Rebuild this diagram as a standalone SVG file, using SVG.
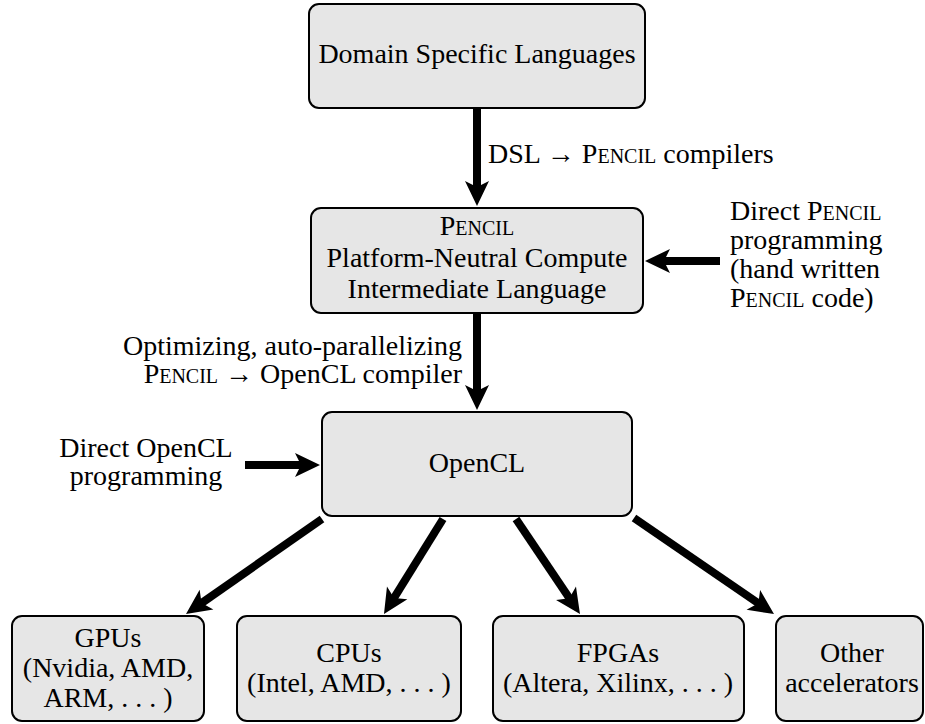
<svg xmlns="http://www.w3.org/2000/svg" width="925" height="724" viewBox="0 0 925 724">
<style>
.box{fill:#e6e6e6;stroke:#000;stroke-width:2}
.arr{stroke:#000;stroke-width:8;fill:none;marker-end:url(#ah)}
</style>
<defs>
<marker id="ah" markerUnits="userSpaceOnUse" markerWidth="40" markerHeight="40" refX="10" refY="0" orient="auto" overflow="visible" viewBox="-5 -20 40 40">
<path d="M0,-12 L25,0 L0,12 L6,0 Z" fill="#000"/>
</marker>
</defs>
<g id="connectors">
<line class="arr" x1="477" y1="109" x2="477" y2="191"/>
<line class="arr" x1="477" y1="313" x2="477" y2="395"/>
<line class="arr" x1="720" y1="261" x2="660" y2="261"/>
<line class="arr" x1="245" y1="465" x2="305" y2="465"/>
<line class="arr" x1="322" y1="519" x2="198.3" y2="605.4"/>
<line class="arr" x1="443" y1="519" x2="391.9" y2="601.3"/>
<line class="arr" x1="516" y1="519" x2="571.6" y2="601.6"/>
<line class="arr" x1="634" y1="518" x2="761.6" y2="605.5"/>
</g>
<g id="dsl">
<rect class="box" x="309" y="4" width="336" height="104" rx="10"/>
<text x="477" y="63" style="font-family:'Liberation Serif',serif;font-size:28px" text-anchor="middle">Domain Specific Languages</text>
</g>
<g id="pencil">
<rect class="box" x="311" y="208" width="332" height="105" rx="10"/>
<text x="477" y="235" style="font-family:'Liberation Serif',serif;font-size:28px;font-variant:small-caps" text-anchor="middle">Pencil</text>
<text x="477" y="267" style="font-family:'Liberation Serif',serif;font-size:28px" text-anchor="middle">Platform-Neutral Compute</text>
<text x="477" y="298" style="font-family:'Liberation Serif',serif;font-size:28px" text-anchor="middle">Intermediate Language</text>
</g>
<g id="opencl">
<rect class="box" x="322" y="412" width="310" height="104" rx="10"/>
<text x="477" y="472" style="font-family:'Liberation Serif',serif;font-size:28px" text-anchor="middle">OpenCL</text>
</g>
<g id="gpus">
<rect class="box" x="12" y="616" width="192" height="105" rx="10"/>
<text x="108" y="647" style="font-family:'Liberation Serif',serif;font-size:28px" text-anchor="middle">GPUs</text>
<text x="108" y="677" style="font-family:'Liberation Serif',serif;font-size:28px" text-anchor="middle">(Nvidia, AMD,</text>
<text x="108" y="707" style="font-family:'Liberation Serif',serif;font-size:28px" text-anchor="middle">ARM, . . . )</text>
</g>
<g id="cpus">
<rect class="box" x="237" y="616" width="224" height="105" rx="10"/>
<text x="349" y="662" style="font-family:'Liberation Serif',serif;font-size:28px" text-anchor="middle">CPUs</text>
<text x="349" y="692" style="font-family:'Liberation Serif',serif;font-size:28px" text-anchor="middle">(Intel, AMD, . . . )</text>
</g>
<g id="fpgas">
<rect class="box" x="493" y="616" width="251" height="105" rx="10"/>
<text x="618" y="662" style="font-family:'Liberation Serif',serif;font-size:28px" text-anchor="middle">FPGAs</text>
<text x="618" y="692" style="font-family:'Liberation Serif',serif;font-size:28px" text-anchor="middle">(Altera, Xilinx, . . . )</text>
</g>
<g id="other">
<rect class="box" x="776" y="616" width="147" height="105" rx="10"/>
<text x="852" y="662" style="font-family:'Liberation Serif',serif;font-size:28px" text-anchor="middle">Other</text>
<text x="852" y="692" style="font-family:'Liberation Serif',serif;font-size:28px" text-anchor="middle">accelerators</text>
</g>
<g id="labels">
<text x="488" y="163" style="font-family:'Liberation Serif',serif;font-size:28px">DSL → <tspan style="font-variant:small-caps">Pencil</tspan> compilers</text>
<text x="730" y="220" style="font-family:'Liberation Serif',serif;font-size:28px">Direct <tspan style="font-variant:small-caps">Pencil</tspan></text>
<text x="730" y="249" style="font-family:'Liberation Serif',serif;font-size:28px">programming</text>
<text x="730" y="278" style="font-family:'Liberation Serif',serif;font-size:28px">(hand written</text>
<text x="730" y="307" style="font-family:'Liberation Serif',serif;font-size:28px"><tspan style="font-variant:small-caps">Pencil</tspan> code)</text>
<text x="462" y="355" style="font-family:'Liberation Serif',serif;font-size:28px" text-anchor="end">Optimizing, auto-parallelizing</text>
<text x="462" y="383" style="font-family:'Liberation Serif',serif;font-size:28px" text-anchor="end"><tspan style="font-variant:small-caps">Pencil</tspan> → OpenCL compiler</text>
<text x="146" y="457" style="font-family:'Liberation Serif',serif;font-size:28px" text-anchor="middle">Direct OpenCL</text>
<text x="146" y="485" style="font-family:'Liberation Serif',serif;font-size:28px" text-anchor="middle">programming</text>
</g>
</svg>
